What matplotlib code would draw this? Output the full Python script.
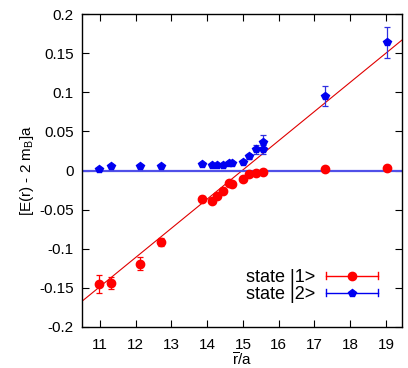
import numpy as np
import matplotlib
matplotlib.use('Agg')
import matplotlib.pyplot as plt
from matplotlib.legend_handler import HandlerBase
from matplotlib.lines import Line2D

plt.rcParams['font.family'] = ['Liberation Sans', 'DejaVu Sans']
plt.rcParams['mathtext.fontset'] = 'custom'
plt.rcParams['mathtext.rm'] = 'Liberation Sans'
plt.rcParams['mathtext.it'] = 'Liberation Sans'

# state |1> (red)
r1 = [10.97, 11.31, 12.13, 12.72, 13.85, 14.13, 14.27, 14.45, 14.6, 14.7,
      14.99, 15.16, 15.36, 15.55, 17.3, 19.03]
e1 = [-0.145, -0.144, -0.119, -0.091, -0.036, -0.039, -0.032, -0.026, -0.016, -0.017,
      -0.011, -0.005, -0.003, -0.002, 0.002, 0.003]
err1 = [0.011, 0.008, 0.008, 0.005, 0.004, 0.003, 0.003, 0.003, 0.002, 0.002,
        0.002, 0.002, 0.002, 0.002, 0.001, 0.001]

# state |2> (blue)
r2 = [10.97, 11.31, 12.13, 12.72, 13.85, 14.13, 14.27, 14.45, 14.6, 14.7,
      14.99, 15.16, 15.36, 15.55, 15.57, 17.3, 19.03]
e2 = [0.002, 0.006, 0.006, 0.006, 0.008, 0.007, 0.007, 0.0075, 0.009, 0.009,
      0.011, 0.018, 0.027, 0.027, 0.037, 0.095, 0.164]
err2 = [0.001, 0.001, 0.001, 0.001, 0.001, 0.001, 0.001, 0.001, 0.001, 0.001,
        0.002, 0.003, 0.006, 0.006, 0.008, 0.013, 0.02]

# linear fit lines
fit1_slope, fit1_x0 = 0.0373, 14.98
fit2_level = 0.0

xticks = [11, 12, 13, 14, 15, 16, 17, 18, 19]
yticks = [-0.2, -0.15, -0.1, -0.05, 0, 0.05, 0.1, 0.15, 0.2]
yticklabels = ['-0.2', '-0.15', '-0.1', '-0.05', '0', '0.05', '0.1', '0.15', '0.2']


class HorizErrHandler(HandlerBase):
    # gnuplot-style key: horizontal bar with caps and a marker in the middle
    def __init__(self, marker, ms):
        super().__init__()
        self.marker = marker
        self.ms = ms

    def create_artists(self, legend, orig_handle, xdescent, ydescent, width, height, fontsize, trans):
        c = orig_handle.get_color()
        y = height / 2 - ydescent
        x0, x1 = -xdescent, width - xdescent
        line = Line2D([x0, x1], [y, y], color=c, lw=1.0, transform=trans)
        cap0 = Line2D([x0, x0], [y - 2.5, y + 2.5], color=c, lw=1.0, transform=trans)
        cap1 = Line2D([x1, x1], [y - 2.5, y + 2.5], color=c, lw=1.0, transform=trans)
        mk = Line2D([(x0 + x1) / 2], [y], color=c, marker=self.marker, ms=self.ms,
                    linestyle='none', transform=trans)
        return [line, cap0, cap1, mk]


fig = plt.figure(figsize=(4.08, 3.68), dpi=100)
ax = fig.add_axes([82 / 408, 41 / 368, 320 / 408, 313 / 368])

xlim = (10.5, 19.45)
ax.set_xlim(*xlim)
ax.set_ylim(-0.2, 0.2)

xx = np.array(xlim)
ax.plot(xx, fit1_slope * (xx - fit1_x0), color='#e00000', lw=0.8, zorder=2)
ax.plot(xx, [fit2_level, fit2_level], color='#5050e8', lw=1.6, zorder=2)

ax.errorbar(r1, e1, yerr=err1, fmt='o', color='#ff0000', ms=6, elinewidth=0.9,
            capsize=2.5, capthick=0.9, zorder=3)
ax.errorbar(r2, e2, yerr=err2, fmt='p', color='#0000f0', ecolor='#3030e0', ms=6,
            elinewidth=0.9, capsize=2.5, capthick=0.9, zorder=3)

h1 = Line2D([], [], color='#ff0000')
h2 = Line2D([], [], color='#0000f0')
ax.legend([h1, h2], ['state |1>', 'state |2>'],
          handler_map={h1: HorizErrHandler('o', 6), h2: HorizErrHandler('p', 5.5)},
          loc='lower right', bbox_to_anchor=(380 / 408, 1 - 305 / 368),
          bbox_transform=fig.transFigure, frameon=False, markerfirst=False,
          fontsize=13, handlelength=2.9, handletextpad=0.6, labelspacing=0.0,
          borderpad=0.1, borderaxespad=0)

ax.set_xticks(xticks)
ax.set_yticks(yticks)
ax.set_yticklabels(yticklabels)
ax.tick_params(direction='in', top=True, right=True, length=5, width=0.8,
               labelsize=11, pad=6)
ax.tick_params(axis='x', pad=8)
for s in ax.spines.values():
    s.set_linewidth(1.0)

ax.set_xlabel(r'$\overline{\mathrm{r}}$/a', fontsize=11, labelpad=0)
ax.set_ylabel(r'[E(r) - 2 m$_\mathrm{B}$]a', fontsize=11, labelpad=2)

fig.savefig('out.png', dpi=100)
